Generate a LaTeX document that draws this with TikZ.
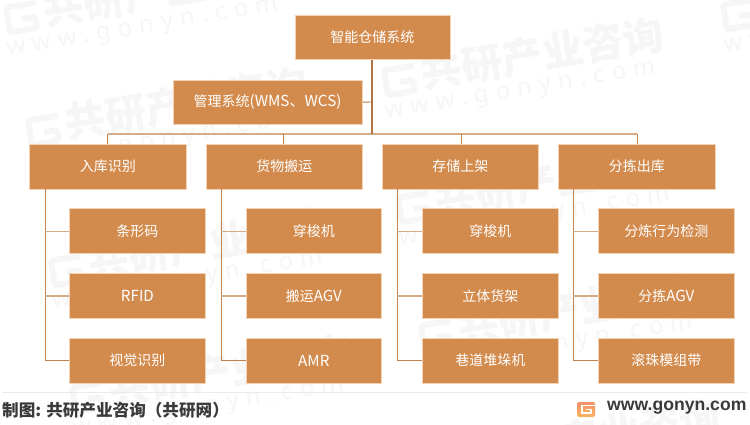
\documentclass[tikz,border=0pt]{standalone}
\usepackage{fontspec}
\setmainfont{Noto Sans CJK SC}
\newfontfamily\wmfont[LetterSpace=30]{Noto Sans}
\newfontfamily\urlfont{Liberation Sans}
\newcommand{\lat}[1]{{\fontsize{15.2}{16}\selectfont #1}}
\definecolor{boxfill}{HTML}{D38B4D}
\definecolor{boxedge}{HTML}{F2D3B6}
\definecolor{linkc}{HTML}{C4814C}
\definecolor{linklt}{HTML}{D6AC88}
\definecolor{wmc}{HTML}{F6F6F6}
\definecolor{foot}{HTML}{3A3A3A}
\definecolor{logotop}{HTML}{F3906A}
\definecolor{logobot}{HTML}{FBB561}
\tikzset{
  x=1pt,y=-1pt,
  cell/.style={draw=boxedge,line width=.6pt,fill=boxfill,text=white,inner sep=0pt,
    font=\fontsize{14}{16}\selectfont,anchor=north west},
  link/.style={draw=linkc,line width=1pt},
  linklight/.style={draw=linklt,line width=1.4pt},
  wmcn/.style={text=wmc,font=\fontsize{41}{44}\selectfont\bfseries,rotate=9.5,anchor=west,inner sep=0pt},
  wmen/.style={text=wmc,font=\fontsize{24}{28}\wmfont,rotate=9.5,anchor=west,inner sep=0pt},
  wmlogo/.style={draw=wmc,line width=6pt,rounded corners=3pt},
}
\newcommand{\cellbox}[6]{% name, x1, y1, x2, y2, text
  \node[cell,minimum width=#4pt-#2pt,minimum height=#5pt-#3pt] (#1) at (#2,#3) {#6};}
\newcommand{\wmark}[2]{%
  \begin{scope}[shift={(#1,#2)},rotate=9.5]
    \draw[wmlogo] (33,-12) -- (3,-12) -- (3,13) -- (30,13) -- (30,2) -- (17,2);
    \node[wmcn] (wa#1) at (39,-3) {共研产业咨询};
    \node[wmen] (wb#1) at (-3,32) {www.gonyn.com};
  \end{scope}}
\begin{document}
\begin{tikzpicture}
\useasboundingbox (0,0) rectangle (750,425);
\fill[white] (0,0) rectangle (750,425);
\begin{scope}
\clip (0,0) rectangle (750,425);
\wmark{5}{20}
\wmark{383}{83}
\wmark{722}{17}
\wmark{27}{133}
\wmark{397}{210}
\wmark{50}{273}
\wmark{420}{338}
\wmark{71}{400}
\wmark{440}{465}
\end{scope}

\cellbox{top}{294.5}{15}{449.7}{59.5}{智能仓储系统}
\cellbox{mgmt}{172.5}{80}{362}{123.7}{管理系统\lat{(WMS、WCS)}}
\cellbox{pa}{29.3}{144}{185.7}{188.7}{入库识别}
\cellbox{pb}{206.3}{144}{362}{188.7}{货物搬运}
\cellbox{pc}{382.3}{144}{538}{188.7}{存储上架}
\cellbox{pd}{558.3}{144}{715}{188.7}{分拣出库}

\cellbox{a1}{69}{208.3}{205.3}{253.3}{条形码}
\cellbox{a2}{69}{273.3}{205.3}{317.7}{\lat{RFID}}
\cellbox{a3}{69}{337.7}{205.3}{382.7}{视觉识别}
\cellbox{b1}{245.7}{208.3}{381.3}{253.3}{穿梭机}
\cellbox{b2}{245.7}{273.3}{381.3}{317.7}{搬运\lat{AGV}}
\cellbox{b3}{245.7}{337.7}{381.3}{382.7}{\lat{AMR}}
\cellbox{c1}{421.7}{208.3}{558.3}{253.3}{穿梭机}
\cellbox{c2}{421.7}{273.3}{558.3}{317.7}{立体货架}
\cellbox{c3}{421.7}{337.7}{558.3}{382.7}{巷道堆垛机}
\cellbox{d1}{597.7}{208.3}{734.3}{253.3}{分炼行为检测}
\cellbox{d2}{597.7}{273.3}{734.3}{317.7}{分拣\lat{AGV}}
\cellbox{d3}{597.7}{337.7}{734.3}{382.7}{滚珠模组带}

\coordinate (hub) at (372,134);
\coordinate (ja) at (107.5,134);
\coordinate (jb) at (283.5,134);
\coordinate (jc) at (461,134);
\coordinate (jd) at (637,134);
\coordinate (mj) at (372,102);
\coordinate (sa) at (45.3,189);
\coordinate (sb) at (221.3,189);
\coordinate (sc) at (397.3,189);
\coordinate (sd) at (573.3,189);

\draw[linklight] (mgmt.east) -- (mj);
\draw[linklight] (ja) -- (jd);
\draw[link,draw=linkc!90!black,line width=1.2pt] (top.south -| hub) -- (hub);
\draw[link] (ja) -- (ja |- pa.north);
\draw[link] (jb) -- (jb |- pb.north);
\draw[link] (jc) -- (jc |- pc.north);
\draw[link] (jd) -- (jd |- pd.north);
\foreach \p/\s in {a/sa,b/sb,c/sc,d/sd}{
  \draw[link] (\s) |- (\p3.west);
  \draw[link,draw=linklt] (\s |- \p1.west) -- (\p1.west);
  \draw[linklight] (\s |- \p2.west) -- (\p2.west);
}

\draw[draw=black!8,line width=.8pt] (2,392) -- (747,392);
\node[anchor=west,inner sep=0pt,text=foot,font=\fontsize{16.6}{19}\selectfont\bfseries] (src) at (2,410) {制图: 共研产业咨询（共研网）};
\shade[top color=logotop,bottom color=logobot,rounded corners=1.5pt] (577,402) rectangle (595,417);
\draw[white,line width=1.6pt] (595,405.5) -- (582,405.5) -- (582,413) -- (591,413) -- (591,409.5) -- (586,409.5);
\node[anchor=west,inner sep=0pt,text=foot,font=\fontsize{17.6}{20}\urlfont\bfseries] (url) at (607,408) {www.gonyn.com};
\end{tikzpicture}
\end{document}
